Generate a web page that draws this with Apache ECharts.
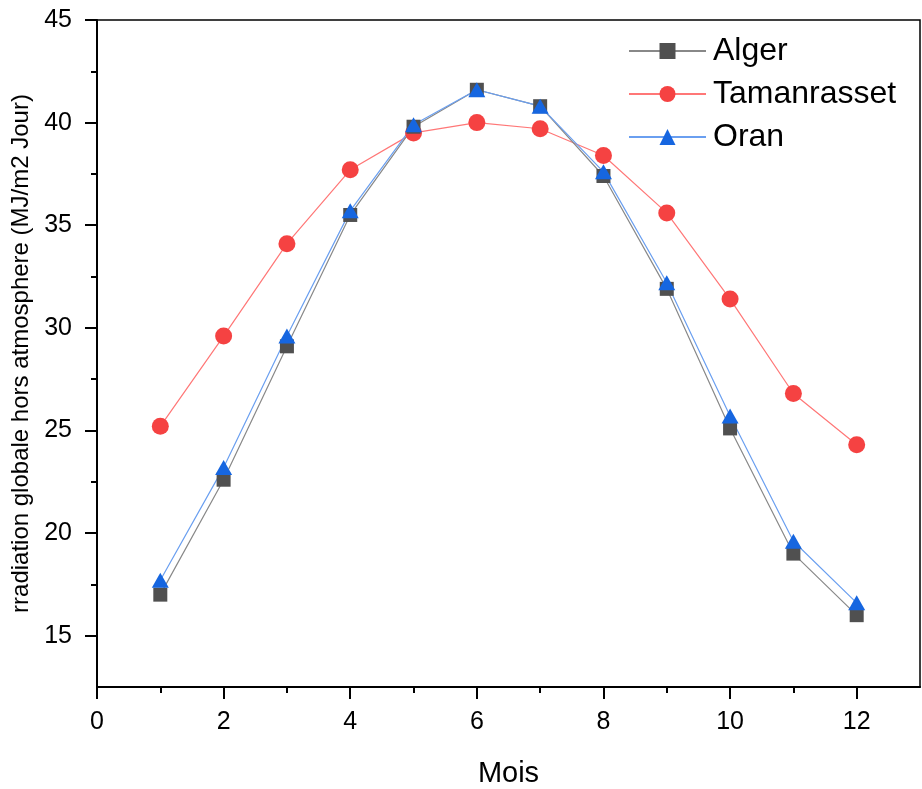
<!DOCTYPE html>
<html>
<head>
<meta charset="utf-8">
<script src="https://cdn.jsdelivr.net/npm/echarts@6/dist/echarts.min.js"></script>
<style>
  html, body { margin: 0; padding: 0; background: #fff; }
  #chart { width: 922px; height: 789px; }
</style>
</head>
<body>
<div id="chart"></div>
<script>
const months = [1, 2, 3, 4, 5, 6, 7, 8, 9, 10, 11, 12];
const alger = [17.0, 22.6, 29.1, 35.5, 39.8, 41.6, 40.8, 37.4, 31.9, 25.1, 19.0, 16.0];
const tamanrasset = [25.2, 29.6, 34.1, 37.7, 39.5, 40.0, 39.7, 38.4, 35.6, 31.4, 26.8, 24.3];
const oran = [17.7, 23.2, 29.6, 35.7, 39.9, 41.6, 40.8, 37.6, 32.2, 25.7, 19.6, 16.6];

const xTicks = [0, 2, 4, 6, 8, 10, 12];
const xMinorTicks = [1, 3, 5, 7, 9, 11];
const yTicks = [15, 20, 25, 30, 35, 40, 45];
const yMinorTicks = [17.5, 22.5, 27.5, 32.5, 37.5, 42.5];

const font = "Liberation Sans";
const pairs = (ys) => months.map((m, i) => [m, ys[i]]);

const chart = echarts.init(document.getElementById("chart"), null, { renderer: "canvas" });

const axisLine = { show: true, lineStyle: { color: "#000", width: 2 } };

chart.setOption({
  animation: false,
  backgroundColor: "#fff",
  textStyle: { fontFamily: font },
  grid: {
    left: 97, top: 20, right: 2, bottom: 102,
    outerBoundsMode: "none", containLabel: false,
    show: true, borderColor: "#000", borderWidth: 1.5
  },
  legend: {
    orient: "vertical",
    left: 623, top: 28,
    itemWidth: 77, itemHeight: 20, itemGap: 7,
    textStyle: { fontFamily: font, fontSize: 32, lineHeight: 36, color: "#000", padding: [0, 0, 0, 2] },
    data: ["Alger", "Tamanrasset", "Oran"]
  },
  xAxis: [
    {
      type: "value", min: 0, max: 13,
      name: "Mois", nameLocation: "middle", nameGap: 72,
      nameTextStyle: { fontFamily: font, fontSize: 29, color: "#000" },
      axisLine: axisLine,
      axisTick: { show: true, length: 12, customValues: xTicks, lineStyle: { color: "#000", width: 2 } },
      axisLabel: { customValues: xTicks, margin: 23, fontFamily: font, fontSize: 25, color: "#000" },
      splitLine: { show: false }
    },
    {
      type: "value", min: 0, max: 13, position: "bottom",
      axisLine: { show: false },
      axisTick: { show: true, length: 6, customValues: xMinorTicks, lineStyle: { color: "#000", width: 2 } },
      axisLabel: { show: false },
      splitLine: { show: false }
    }
  ],
  yAxis: [
    {
      type: "value", min: 12.5, max: 45,
      name: "rradiation globale hors atmosphere (MJ/m2 Jour)",
      nameLocation: "middle", nameGap: 62,
      nameTextStyle: { fontFamily: font, fontSize: 24, color: "#000" },
      axisLine: axisLine,
      axisTick: { show: true, length: 12, customValues: yTicks, lineStyle: { color: "#000", width: 2 } },
      axisLabel: { customValues: yTicks, margin: 25, fontFamily: font, fontSize: 25, color: "#000" },
      splitLine: { show: false }
    },
    {
      type: "value", min: 12.5, max: 45, position: "left",
      axisLine: { show: false },
      axisTick: { show: true, length: 6, customValues: yMinorTicks, lineStyle: { color: "#000", width: 2 } },
      axisLabel: { show: false },
      splitLine: { show: false }
    }
  ],
  series: [
    {
      name: "Tamanrasset", type: "line", data: pairs(tamanrasset),
      symbol: "circle", symbolSize: 17,
      itemStyle: { color: "#f54242" },
      lineStyle: { color: "#f77", width: 1.2 }
    },
    {
      name: "Alger", type: "line", data: pairs(alger),
      symbol: "rect", symbolSize: 14,
      itemStyle: { color: "#505050" },
      lineStyle: { color: "#888", width: 1.2 }
    },
    {
      name: "Oran", type: "line", data: pairs(oran),
      symbol: "triangle", symbolSize: [17, 15],
      itemStyle: { color: "#1666e0" },
      lineStyle: { color: "#6a9ff0", width: 1.2 }
    }
  ]
});
</script>
</body>
</html>
